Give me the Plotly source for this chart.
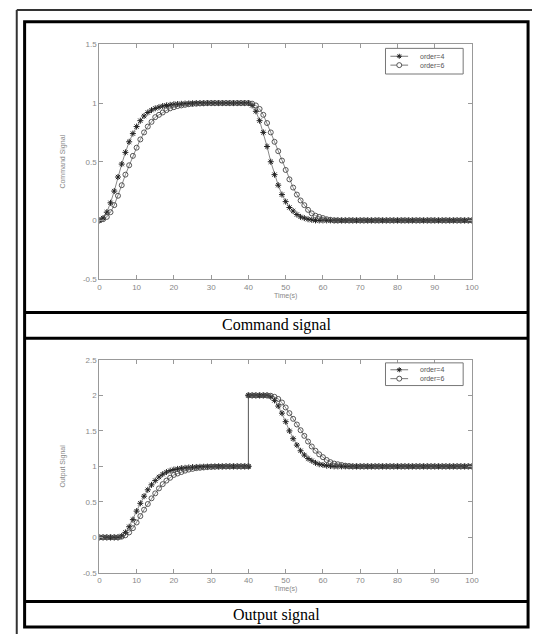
import plotly.graph_objects as go

# ---------------- data ----------------
time_cmd = list(range(0, 101))

cmd_order4 = [
    0, 0.02, 0.07, 0.15, 0.25, 0.37, 0.48, 0.58, 0.67, 0.74,
    0.80, 0.85, 0.89, 0.92, 0.94, 0.955, 0.965, 0.975, 0.98, 0.985,
    0.99, 0.992, 0.994, 0.996, 0.997, 0.998, 1, 1, 1, 1,
    1, 1, 1, 1, 1, 1, 1, 1, 1, 1,
    1, 0.98, 0.93, 0.85, 0.75, 0.63, 0.50, 0.39, 0.30, 0.22,
    0.16, 0.11, 0.08, 0.05, 0.03, 0.02, 0.01, 0.005, 0, 0,
    0, 0, 0, 0, 0, 0, 0, 0, 0, 0,
    0, 0, 0, 0, 0, 0, 0, 0, 0, 0,
    0, 0, 0, 0, 0, 0, 0, 0, 0, 0,
    0, 0, 0, 0, 0, 0, 0, 0, 0, 0,
    0,
]

cmd_order6 = [
    0, 0.01, 0.03, 0.07, 0.13, 0.21, 0.30, 0.39, 0.47, 0.55,
    0.62, 0.69, 0.75, 0.80, 0.84, 0.88, 0.90, 0.92, 0.94, 0.955,
    0.965, 0.975, 0.98, 0.985, 0.99, 0.993, 0.995, 0.997, 0.998, 1,
    1, 1, 1, 1, 1, 1, 1, 1, 1, 1,
    1, 0.995, 0.98, 0.95, 0.90, 0.83, 0.75, 0.67, 0.59, 0.51,
    0.43, 0.35, 0.28, 0.22, 0.17, 0.13, 0.09, 0.06, 0.04, 0.03,
    0.02, 0.01, 0.005, 0, 0, 0, 0, 0, 0, 0,
    0, 0, 0, 0, 0, 0, 0, 0, 0, 0,
    0, 0, 0, 0, 0, 0, 0, 0, 0, 0,
    0, 0, 0, 0, 0, 0, 0, 0, 0, 0,
    0,
]

time_out = [
    0, 1, 2, 3, 4, 5, 6, 7, 8, 9,
    10, 11, 12, 13, 14, 15, 16, 17, 18, 19,
    20, 21, 22, 23, 24, 25, 26, 27, 28, 29,
    30, 31, 32, 33, 34, 35, 36, 37, 38, 39,
    40, 40, 41, 42, 43, 44, 45, 46, 47, 48, 49,
    50, 51, 52, 53, 54, 55, 56, 57, 58, 59,
    60, 61, 62, 63, 64, 65, 66, 67, 68, 69,
    70, 71, 72, 73, 74, 75, 76, 77, 78, 79,
    80, 81, 82, 83, 84, 85, 86, 87, 88, 89,
    90, 91, 92, 93, 94, 95, 96, 97, 98, 99,
    100,
]

out_order4 = [
    0, 0, 0, 0, 0, 0, 0.02, 0.07, 0.15, 0.25,
    0.37, 0.48, 0.58, 0.67, 0.74, 0.80, 0.85, 0.89, 0.92, 0.94,
    0.955, 0.965, 0.975, 0.98, 0.985, 0.99, 0.992, 0.994, 0.996, 0.997,
    0.998, 1, 1, 1, 1, 1, 1, 1, 1, 1,
    1, 2, 2, 2, 2, 2, 2, 1.98, 1.93, 1.85, 1.75,
    1.63, 1.50, 1.39, 1.30, 1.22, 1.16, 1.11, 1.08, 1.05, 1.03,
    1.02, 1.01, 1.005, 1, 1, 1, 1, 1, 1, 1,
    1, 1, 1, 1, 1, 1, 1, 1, 1, 1,
    1, 1, 1, 1, 1, 1, 1, 1, 1, 1,
    1, 1, 1, 1, 1, 1, 1, 1, 1, 1,
    1,
]

out_order6 = [
    0, 0, 0, 0, 0, 0, 0.01, 0.03, 0.07, 0.13,
    0.21, 0.30, 0.39, 0.47, 0.55, 0.62, 0.69, 0.75, 0.80, 0.84,
    0.88, 0.90, 0.92, 0.94, 0.955, 0.965, 0.975, 0.98, 0.985, 0.99,
    0.993, 0.995, 0.997, 0.998, 1, 1, 1, 1, 1, 1,
    1, 2, 2, 2, 2, 2, 2, 1.995, 1.98, 1.95, 1.90,
    1.83, 1.75, 1.67, 1.59, 1.51, 1.43, 1.35, 1.28, 1.22, 1.17,
    1.13, 1.09, 1.06, 1.04, 1.03, 1.02, 1.01, 1.005, 1, 1,
    1, 1, 1, 1, 1, 1, 1, 1, 1, 1,
    1, 1, 1, 1, 1, 1, 1, 1, 1, 1,
    1, 1, 1, 1, 1, 1, 1, 1, 1, 1,
    1,
]

x_ticks = [0, 10, 20, 30, 40, 50, 60, 70, 80, 90, 100]
cmd_yticks = [-0.5, 0, 0.5, 1, 1.5]
cmd_yticktext = ["-0.5", "0", "0.5", "1", "1.5"]
out_yticks = [-0.5, 0, 0.5, 1, 1.5, 2, 2.5]
out_yticktext = ["-0.5", "0", "0.5", "1", "1.5", "2", "2.5"]
series_names = ["order=4", "order=6"]
captions = ["Command signal", "Output signal"]

# ---------------- figure ----------------
W, H = 539, 639


def px_x(p):
    return p / W


def px_y(p):
    return 1 - p / H


fig = go.Figure()

m4 = dict(symbol="asterisk-open", size=5, color="#222", line=dict(width=1, color="#222"))
m6 = dict(symbol="circle-open", size=5, color="#444", line=dict(width=0.9, color="#444"))
ln = dict(color="#555", width=0.7)

fig.add_trace(go.Scatter(x=time_cmd, y=cmd_order4, mode="lines+markers", name=series_names[0],
                         marker=m4, line=ln, xaxis="x", yaxis="y", showlegend=False))
fig.add_trace(go.Scatter(x=time_cmd, y=cmd_order6, mode="lines+markers", name=series_names[1],
                         marker=m6, line=ln, xaxis="x", yaxis="y", showlegend=False))
fig.add_trace(go.Scatter(x=time_out, y=out_order4, mode="lines+markers", name=series_names[0],
                         marker=m4, line=ln, xaxis="x2", yaxis="y2", showlegend=False))
fig.add_trace(go.Scatter(x=time_out, y=out_order6, mode="lines+markers", name=series_names[1],
                         marker=m6, line=ln, xaxis="x2", yaxis="y2", showlegend=False))

axis_common = dict(showgrid=False, zeroline=False, showline=True, linecolor="#999", linewidth=1,
                   ticks="inside", ticklen=4, tickcolor="#999", mirror="ticks",
                   tickfont=dict(family="Arial, Liberation Sans", size=8, color="#888"))

title_font = dict(family="Arial, Liberation Sans", size=7, color="#888")
xdom = [px_x(99), px_x(478)]
fig.update_layout(
    width=W, height=H,
    margin=dict(l=0, r=0, t=0, b=0),
    paper_bgcolor="white", plot_bgcolor="white",
    showlegend=False,
    xaxis=dict(domain=xdom, range=[0, 100], tickvals=x_ticks, anchor="y",
               title=dict(text="Time(s)", font=title_font, standoff=1), **axis_common),
    yaxis=dict(domain=[px_y(279), px_y(41)], range=[-0.5, 1.5], tickvals=cmd_yticks, ticktext=cmd_yticktext,
               anchor="x",
               title=dict(text="Command Signal", font=title_font, standoff=16), **axis_common),
    xaxis2=dict(domain=xdom, range=[0, 100], tickvals=x_ticks, anchor="y2",
                title=dict(text="Time(s)", font=title_font, standoff=1), **axis_common),
    yaxis2=dict(domain=[px_y(577), px_y(361)], range=[-0.5, 2.5], tickvals=out_yticks, ticktext=out_yticktext,
                anchor="x2",
                title=dict(text="Output Signal", font=title_font, standoff=16), **axis_common),
)

shapes = []
annotations = []

# table frame
shapes.append(dict(type="line", xref="paper", yref="paper", x0=px_x(15), x1=1, y0=px_y(6), y1=px_y(6),
                   line=dict(color="#333", width=2)))
shapes.append(dict(type="line", xref="paper", yref="paper", x0=px_x(15), x1=px_x(15), y0=px_y(6), y1=0,
                   line=dict(color="#333", width=2)))
shapes.append(dict(type="rect", xref="paper", yref="paper", x0=px_x(23), x1=px_x(535), y0=px_y(18), y1=px_y(632),
                   line=dict(color="black", width=3)))
for yy in [313, 339, 606]:
    shapes.append(dict(type="line", xref="paper", yref="paper", x0=px_x(23), x1=px_x(535), y0=px_y(yy), y1=px_y(yy),
                       line=dict(color="black", width=3)))

# compact MATLAB-style legends
legend_boxes = [(390, 469, 45, 71, [53, 62]), (390, 469, 364, 387, [371, 380])]
for (lx0, lx1, ly0, ly1, rows) in legend_boxes:
    shapes.append(dict(type="rect", xref="paper", yref="paper", x0=px_x(lx0), x1=px_x(lx1),
                       y0=px_y(ly0), y1=px_y(ly1), line=dict(color="#777", width=1), fillcolor="white",
                       layer="above"))
    for i, ry in enumerate(rows):
        shapes.append(dict(type="line", xref="paper", yref="paper", x0=px_x(395), x1=px_x(413),
                           y0=px_y(ry), y1=px_y(ry), line=dict(color="#555", width=0.8), layer="above"))
        if i == 0:
            for (dx, dy) in [(2.5, 0), (0, 2.5), (1.8, 1.8), (1.8, -1.8)]:
                shapes.append(dict(type="line", xref="paper", yref="paper", xsizemode="pixel", ysizemode="pixel",
                                   xanchor=px_x(404), yanchor=px_y(ry), x0=-dx, x1=dx, y0=-dy, y1=dy,
                                   line=dict(color="#222", width=1), layer="above"))
        else:
            shapes.append(dict(type="circle", xref="paper", yref="paper", xsizemode="pixel", ysizemode="pixel",
                               xanchor=px_x(404), yanchor=px_y(ry), x0=-2.5, x1=2.5, y0=-2.5, y1=2.5,
                               line=dict(color="#444", width=0.9), fillcolor="white", layer="above"))
        annotations.append(dict(text=series_names[i], x=px_x(423), y=px_y(ry), xref="paper", yref="paper",
                                xanchor="left", yanchor="middle", showarrow=False,
                                font=dict(family="Arial, Liberation Sans", size=7, color="#555")))

fig.update_layout(shapes=shapes)

annotations.append(dict(text=captions[0], x=px_x(279), y=px_y(326), xref="paper", yref="paper", showarrow=False,
                        font=dict(family="Liberation Serif, Times New Roman", size=16, color="black"),
                        yanchor="middle"))
annotations.append(dict(text=captions[1], x=px_x(279), y=px_y(620), xref="paper", yref="paper", showarrow=False,
                        font=dict(family="Liberation Serif, Times New Roman", size=16, color="black"),
                        yanchor="middle"))
fig.update_layout(annotations=annotations)

fig.write_html("out.html")
